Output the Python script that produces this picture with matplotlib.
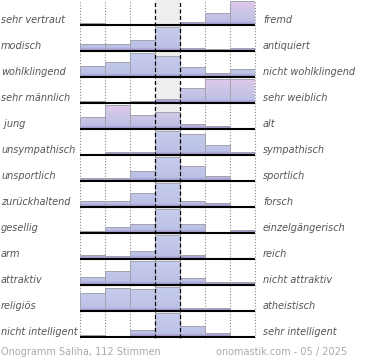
import numpy as np
import matplotlib
matplotlib.use("Agg")
import matplotlib.pyplot as plt
import matplotlib.transforms as mtrans
from matplotlib.colors import to_rgb

# ---------------- data ----------------
left_labels = ["sehr vertraut", "modisch", "wohlklingend", "sehr männlich", " jung",
               "unsympathisch", "unsportlich", "zurückhaltend", "gesellig", "arm",
               "attraktiv", "religiös", "nicht intelligent"]
right_labels = ["fremd", "antiquiert", "nicht wohlklingend", "sehr weiblich", "alt",
                "sympathisch", "sportlich", "forsch", "einzelgängerisch", "reich",
                "nicht attraktiv", "atheistisch", "sehr intelligent"]
scale_steps = [1, 2, 3, 4, 5, 6, 7]
# relative bar heights (percent of row maximum)
row01 = [7, 0, 0, 0, 14, 51, 100]
row02 = [28, 28, 47, 100, 14, 10, 14]
row03 = [44, 62, 100, 88, 40, 17, 32]
row04 = [7, 0, 7, 17, 62, 100, 100]
row05 = [49, 100, 56, 69, 22, 12, 5]
row06 = [4, 12, 12, 100, 86, 42, 14]
row07 = [14, 14, 43, 100, 60, 22, 0]
row08 = [24, 24, 58, 100, 24, 17, 5]
row09 = [7, 24, 38, 100, 38, 3, 14]
row10 = [18, 14, 35, 100, 17, 4, 0]
row11 = [33, 58, 100, 100, 30, 12, 12]
row12 = [76, 94, 89, 100, 14, 14, 0]
row13 = [10, 0, 29, 100, 47, 15, 0]
rows = [row01, row02, row03, row04, row05, row06, row07, row08, row09, row10,
        row11, row12, row13]
footer_left = "Onogramm Saliha, 112 Stimmen"
footer_right = "onomastik.com - 05 / 2025"

# ---------------- style ----------------
W, Hpx = 370, 360
pink_rows = {0, 3, 4}


def gradient(stops, n=64):
    pos = np.array([s[0] for s in stops])
    cols = np.array([to_rgb(s[1]) for s in stops])
    t = np.linspace(0, 1, n)
    arr = np.stack([np.interp(t, pos, cols[:, k]) for k in range(3)], axis=-1)
    return arr[:, None, :]


grad_pink = gradient([(0.0, "#e3c9e9"), (0.45, "#cdc6e7"), (0.86, "#bdc0e5"),
                      (0.92, "#ada6d6"), (1.0, "#a294cb")])
grad_blue = gradient([(0.0, "#c7cdee"), (0.86, "#bcc1e6"),
                      (0.92, "#ada6d6"), (1.0, "#a294cb")])

fig = plt.figure(figsize=(W / 100, Hpx / 100), dpi=100)
ax = fig.add_axes([79.5 / W, 22 / Hpx, 175 / W, 338 / Hpx])
ax.set_xlim(0.5, 7.5)
ax.set_ylim(13, 0)
ax.axis("off")

# center column shading
ax.axvspan(3.5, 4.5, color="#eeeeee", zorder=0, lw=0)
# dotted grid lines
for xv in [0.5, 1.5, 2.5, 5.5, 6.5, 7.5]:
    ax.axvline(xv, color="#8a8a8a", lw=0.8, ls=(0, (1, 1.6)), zorder=1, clip_on=False)
# dashed centre lines
for xv in [3.5, 4.5]:
    ax.axvline(xv, color="black", lw=0.9, ls=(0, (3.2, 2)), zorder=6, clip_on=False)

Hmax = 0.94
row_h_px = 26.0
trans_lab = mtrans.blended_transform_factory(fig.transFigure, ax.transData)

for i, vals in enumerate(rows):
    base = i + 0.965
    heights = np.array(vals) / 100.0 * Hmax
    bars = ax.bar(scale_steps, -heights, bottom=base, width=1.0, facecolor="none",
                  edgecolor="#a3a3ad", lw=0.7, zorder=4)
    grad = grad_pink if i in pink_rows else grad_blue
    for x, h, patch in zip(scale_steps, heights, bars.patches):
        if h <= 0:
            continue
        im = ax.imshow(grad, extent=[x - 0.5, x + 0.5, base, base - Hmax],
                       aspect="auto", origin="upper", zorder=3, interpolation="bilinear")
        im.set_clip_path(patch)
    ax.hlines(base, 0.5, 7.5, color="black", lw=1.5, zorder=5)
    ylab = base - 5.0 / row_h_px
    ax.text(1 / W, ylab, left_labels[i], transform=trans_lab, fontsize=7,
            style="italic", color="#555555", va="center", ha="left")
    ax.text(263 / W, ylab, right_labels[i], transform=trans_lab, fontsize=7,
            style="italic", color="#555555", va="center", ha="left")

ax.set_xlim(0.5, 7.5)
ax.set_ylim(13, 0)

fig.text(1 / W, 1 - 352 / Hpx, footer_left, fontsize=7, color="#aaaaaa",
         va="center", ha="left")
fig.text(347 / W, 1 - 352 / Hpx, footer_right, fontsize=7, color="#aaaaaa",
         va="center", ha="right")

fig.savefig("out.png", dpi=100)
